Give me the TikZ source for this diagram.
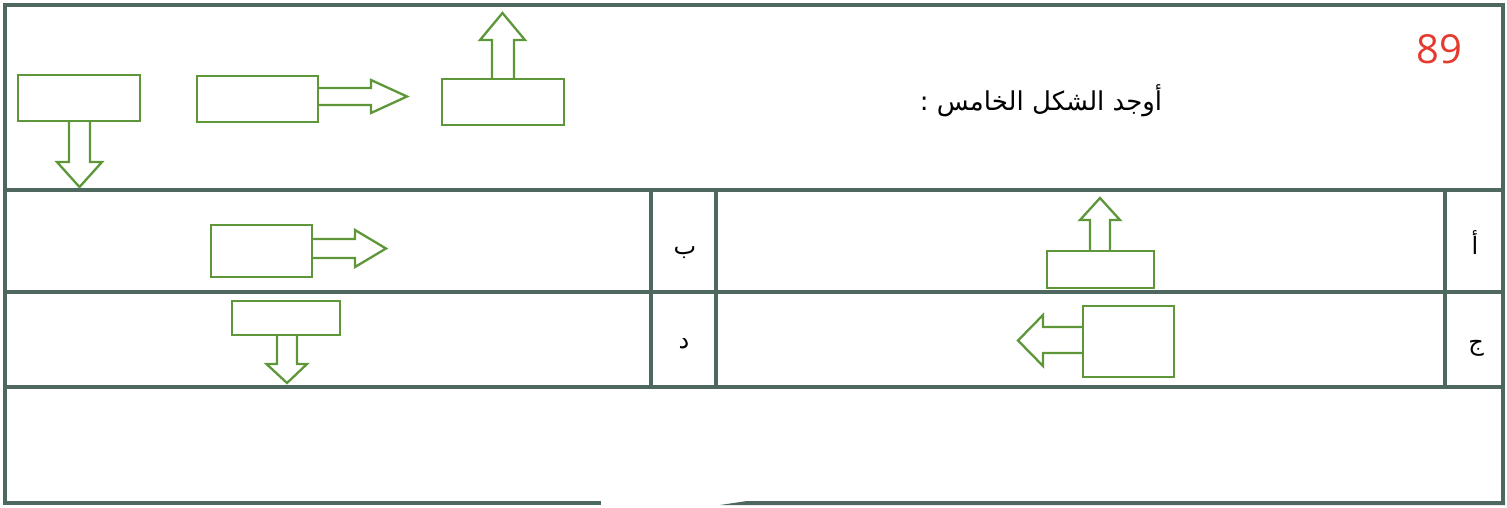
\documentclass[tikz,border=0pt]{standalone}
\usepackage{fontspec}
\setmainfont{Open Sans}
\newfontfamily\arabicfont[Script=Arabic]{DejaVu Sans}
\TeXXeTstate=1
\definecolor{framec}{RGB}{78,104,96}
\definecolor{shapec}{RGB}{94,150,58}
\definecolor{numc}{RGB}{228,58,48}
\tikzset{
  frameline/.style={draw=framec, line width=4pt},
  innerline/.style={draw=framec, line width=3.2pt},
  figbox/.style={draw=shapec, line width=2.3pt, inner sep=0pt, minimum width=#1},
  blockarrow/.style={draw=shapec, line width=2.3pt, line join=miter},
  letter/.style={font=\arabicfont\fontsize{24}{28}\selectfont, text=black, inner sep=0pt}
}
\begin{document}
\begin{tikzpicture}[x=1pt,y=-1pt]
\useasboundingbox (0,0) rectangle (1507,507);
% frame
\draw[frameline] (5,5) -- (1503,5);
\draw[frameline] (5,3) -- (5,505);
\draw[frameline] (1503,3) -- (1503,505);
\draw[frameline] (3,503) -- (601,503);
\fill[framec] (720,505) -- (747,501) -- (1505,501) -- (1505,505) -- cycle;
\draw[frameline] (5,190) -- (1503,190);
\draw[frameline] (5,292) -- (1503,292);
\draw[frameline] (5,387) -- (1503,387);
\draw[innerline] (651,190) -- (651,387);
\draw[innerline] (716,190) -- (716,387);
\draw[innerline] (1445,190) -- (1445,387);
% header
\node[text=numc, font=\fontsize{40}{46}\selectfont, inner sep=0pt] (num) at (1439,49) {89};
\node[font=\arabicfont\fontsize{26}{31}\selectfont, inner sep=0pt] (title) at (1041,101) {\beginR أوجد الشكل الخامس :\endR};
% sequence shapes
\node[figbox=122pt, minimum height=46pt] (s1) at (79,98) {};
\draw[blockarrow] (69,121) -- (69,162) -- (57,162) -- (79.5,187) -- (102,162) -- (90,162) -- (90,121);
\node[figbox=121pt, minimum height=46pt] (s2) at (257.5,99) {};
\draw[blockarrow] (318,88) -- (371,88) -- (371,80) -- (407,96.5) -- (371,113) -- (371,105) -- (318,105);
\node[figbox=122pt, minimum height=46pt] (s3) at (503,102) {};
\draw[blockarrow] (492,79) -- (492,40) -- (480,40) -- (502.5,13) -- (525,40) -- (514,40) -- (514,79);
% options
\node[figbox=107pt, minimum height=37pt] (oa) at (1100.5,269.5) {};
\draw[blockarrow] (1090,251) -- (1090,220) -- (1080,220) -- (1100,198) -- (1120,220) -- (1110,220) -- (1110,251);
\node[figbox=101pt, minimum height=52pt] (ob) at (261.5,251) {};
\draw[blockarrow] (312,239) -- (355,239) -- (355,230) -- (386,248.5) -- (355,267) -- (355,258) -- (312,258);
\node[figbox=91pt, minimum height=71pt] (oc) at (1128.5,341.5) {};
\draw[blockarrow] (1083,327) -- (1043,327) -- (1043,315) -- (1018,340.5) -- (1043,366) -- (1043,353) -- (1083,353);
\node[figbox=108pt, minimum height=34pt] (od) at (286,318) {};
\draw[blockarrow] (277,335) -- (277,364) -- (266.5,364) -- (287,383) -- (307,364) -- (297,364) -- (297,335);
% labels
\node[letter] (la) at (1475,243) {\beginR أ\endR};
\node[letter] (lb) at (685,253) {\beginR ب\endR};
\node[letter] (lc) at (1476,348) {\beginR ج\endR};
\node[letter] (ld) at (684,344) {\beginR د\endR};
\end{tikzpicture}
\end{document}
